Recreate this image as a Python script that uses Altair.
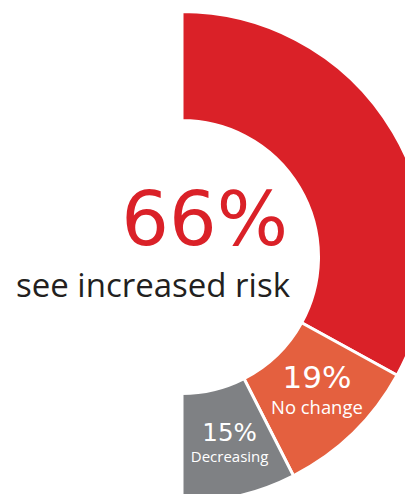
import altair as alt
import pandas as pd

# ---- data ----
categories = ["see increased risk", "No change", "Decreasing"]
values = [66, 19, 15]
pct_labels = ["66%", "19%", "15%"]
order = [0, 1, 2]
colors = ["#DA2128", "#E4603F", "#7F8184"]

df = pd.DataFrame({"category": categories, "value": values, "pct": pct_labels, "order": order})

CX, CY = 174, 249
FONT = "Open Sans"
NUMFONT = "DejaVu Sans"
theta_scale = alt.Scale(domain=[0, 100], range=[0, 3.141592653589793])
color_scale = alt.Scale(domain=categories, range=colors)

base = alt.Chart(df).transform_window(
    end="sum(value)", sort=[alt.SortField("order")], frame=[None, 0]
).transform_calculate(
    start="datum.end - datum.value", mid="datum.end - datum.value / 2"
)

arcs = base.mark_arc(outerRadius=245.5, innerRadius=136.5, stroke="white", strokeWidth=3).encode(
    theta=alt.Theta("start:Q", scale=theta_scale),
    theta2="end:Q",
    color=alt.Color("category:N", scale=color_scale, legend=None),
    x=alt.value(CX),
    y=alt.value(CY),
)


def seg_text(cat, field, size, dx, dy, font):
    return base.transform_filter(alt.datum.category == cat).mark_text(
        radius=191, fontSize=size, font=font, color="white", align="center",
        baseline="alphabetic", dx=dx, dy=dy,
    ).encode(
        theta=alt.Theta("mid:Q", scale=theta_scale, stack=None),
        text=f"{field}:N",
        x=alt.value(CX),
        y=alt.value(CY),
    )


t1 = seg_text(categories[1], "pct", 31, 2, -6, NUMFONT)
t2 = seg_text(categories[1], "category", 18.4, 2, 20, FONT)
t3 = seg_text(categories[2], "pct", 24.6, 3, -2, NUMFONT)
t4 = seg_text(categories[2], "category", 15, 3, 19, FONT)

big = base.transform_filter(alt.datum.category == categories[0]).mark_text(
    align="right", baseline="alphabetic", fontSize=75, font=NUMFONT, color=colors[0]
).encode(text="pct:N", x=alt.value(280), y=alt.value(237))

sub = base.transform_filter(alt.datum.category == categories[0]).mark_text(
    align="right", baseline="alphabetic", fontSize=33, font=FONT, color="#231F20"
).encode(text="category:N", x=alt.value(282), y=alt.value(289))

chart = alt.layer(arcs, t1, t2, t3, t4, big, sub).properties(
    width=397, height=486, padding=0, autosize="none"
).configure_view(stroke=None)

chart.save("out.html", embed_options={"renderer": "svg", "actions": False})
